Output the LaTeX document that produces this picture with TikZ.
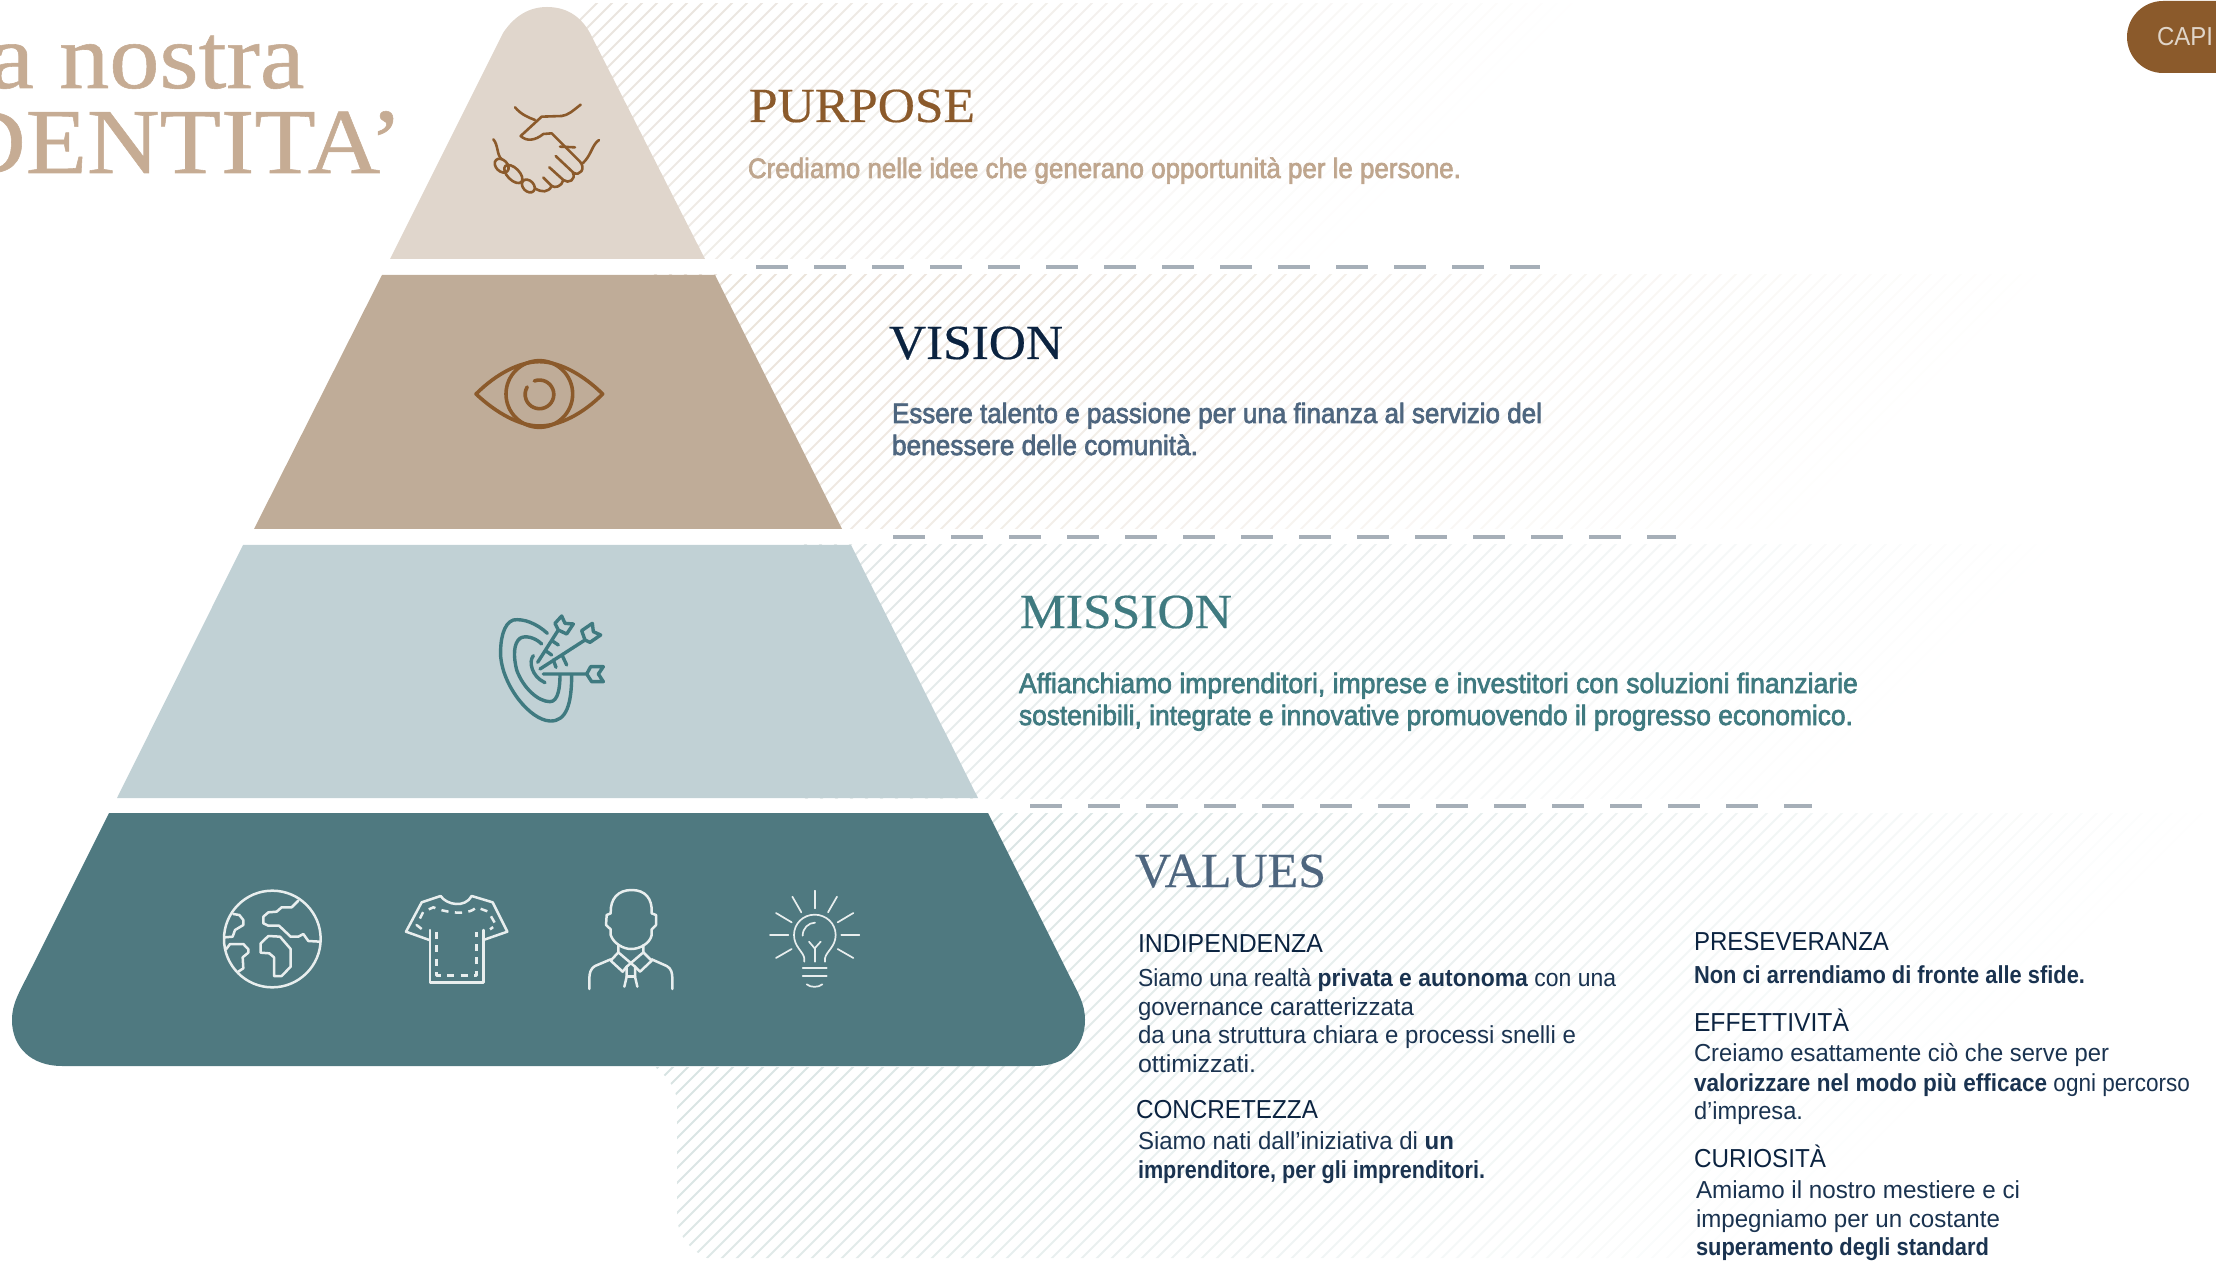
\documentclass[tikz,border=0pt]{standalone}
\usepackage{fontspec}
\usepackage{graphicx}
\setmainfont{Liberation Sans}
\newfontfamily\headf[FakeBold=0.4]{Liberation Serif}
\newfontfamily\bighead[FakeStretch=1.08,FakeBold=0.6]{Liberation Serif}
\newfontfamily\medf[FakeBold=2.5]{Liberation Sans}
\definecolor{cTa}{HTML}{E0D6CC}
\definecolor{cTb}{HTML}{BFAC98}
\definecolor{cTc}{HTML}{C1D1D5}
\definecolor{cTd}{HTML}{4F7980}
\definecolor{cBrown}{HTML}{8B5A2B}
\definecolor{cTeal}{HTML}{3F7A80}
\definecolor{cIce}{HTML}{E8EEEE}
\definecolor{cTitle}{HTML}{C6AC94}
\definecolor{cSand}{HTML}{BFA68E}
\definecolor{cSlate}{HTML}{4E667F}
\definecolor{cNavy}{HTML}{0B2340}
\definecolor{cBody}{HTML}{1A3350}
\definecolor{cDash}{HTML}{A6AFB8}
\definecolor{cBtnT}{HTML}{E0D5C9}
\definecolor{hA}{HTML}{EAE5DF}
\definecolor{hB}{HTML}{EAE2D9}
\definecolor{hC}{HTML}{E2E8E8}
\definecolor{hD}{HTML}{D6E2E1}
\newlength\fitw
\newcommand\fitline[2]{\fitw=#1pt \divide\fitw by 2 \resizebox{\fitw}{\height}{#2}}
\newcommand\hatchband[3]{%
  \foreach \s in {600,615,...,3300}{%
    \pgfmathtruncatemacro{\m}{max(0,min(100,100*((#2-\s)/(#2-#1))))}%
    \draw[line width=0.95pt,color=#3!\m!white] (\s,0) -- ({\s-1300},1300);
  }}
\tikzset{
  txt/.style={anchor=base west,inner sep=0pt,outer sep=0pt},
  bodyt/.style={txt,text=cBody,font=\fontsize{12.3}{14}\selectfont},
  headt/.style={txt,text=cNavy,font=\fontsize{13}{15}\selectfont},
  subt/.style={txt,font=\medf\fontsize{14}{16}\selectfont},
  titlet/.style={txt,font=\headf\fontsize{24.5}{28}\selectfont},
  dashl/.style={cDash,line width=2.2pt,dash pattern=on 16pt off 13pt},
  zoomed/.style={x=0.16667pt,y=-0.16667pt,line cap=round,line join=round},
}
\begin{document}
\begin{tikzpicture}[x=0.5pt,y=-0.5pt]
\useasboundingbox (0,0) rectangle (2216,1261);
\clip (0,0) rectangle (2216,1261);
% hatching
\begin{scope}\clip (500,4) rectangle (2216,259);\hatchband{700}{1600}{hA}\end{scope}
\begin{scope}\clip (650,275) rectangle (2216,529);\hatchband{1000}{2350}{hB}\end{scope}
\begin{scope}\clip (800,545) rectangle (2216,798);\hatchband{1500}{2620}{hC}\end{scope}
\begin{scope}
\clip (950,813) -- (2216,813) -- (2216,1258) -- (707,1258) .. controls (690,1250) and (677,1235) .. (677,1215) -- (677,1100) .. controls (675,1085) and (665,1075) .. (655,1067) -- (950,1067) -- cycle;
\hatchband{1700}{3050}{hD}
\end{scope}
% pyramid
\fill[cTa] (390,259) -- (503,33) .. controls (515,15) and (530,7) .. (547,7) .. controls (565,7) and (580,15) .. (590,33) -- (705,259) -- cycle;
\fill[cTb] (254,529) -- (382,275) -- (715,275) -- (842,529) -- cycle;
\fill[cTc] (117,798) -- (243,545) -- (851,545) -- (978,798) -- cycle;
\fill[cTd] (109,813) -- (988,813) -- (1065,967) .. controls (1078,993) and (1085,1003) .. (1085,1020) .. controls (1085,1048) and (1065,1066) .. (1035,1066) -- (62,1066) .. controls (32,1066) and (12,1048) .. (12,1020) .. controls (12,1003) and (19,993) .. (32,967) -- cycle;
% dashes
\coordinate (da) at (756,267); \coordinate (db) at (1540,267);
\coordinate (dc) at (893,537); \coordinate (dd) at (1676,537);
\coordinate (de) at (1030,806); \coordinate (df) at (1812,806);
\draw[dashl] (da) -- (db);
\draw[dashl] (dc) -- (dd);
\draw[dashl] (de) -- (df);
% title
\node[anchor=base east,inner sep=0pt,text=cTitle,font=\bighead\fontsize{46.5}{50}\selectfont] (t1) at (305,88) {a nostra};
\node[anchor=base east,inner sep=0pt,text=cTitle,font=\bighead\fontsize{46.5}{50}\selectfont] (t2) at (403,173) {DENTITA’};
% button
\fill[cBrown] (2216,1) -- (2163,1) arc[start angle=270,end angle=90,radius=36] -- (2216,73) -- cycle;
\node[txt,text=cBtnT,font=\fontsize{13}{15}\selectfont] (btn) at (2157,46) {\fitline{56}{CAPI}};
% purpose
\node[titlet,text=cBrown] (h1) at (749,122) {\fitline{226}{PURPOSE}};
\node[subt,text=cSand] (s1) at (748,178) {\fitline{713}{Crediamo nelle idee che generano opportunità per le persone.}};
% vision
\node[titlet,text=cNavy] (h2) at (889,359) {\fitline{174}{VISION}};
\node[subt,text=cSlate] (s2a) at (892,423) {\fitline{650}{Essere talento e passione per una finanza al servizio del}};
\node[subt,text=cSlate] (s2b) at (892,455) {\fitline{306}{benessere delle comunità.}};
% mission
\node[titlet,text=cTeal] (h3) at (1020,628) {\fitline{212}{MISSION}};
\node[subt,text=cTeal] (s3a) at (1019,693) {\fitline{839}{Affianchiamo imprenditori, imprese e investitori con soluzioni finanziarie}};
\node[subt,text=cTeal] (s3b) at (1019,725) {\fitline{834}{sostenibili, integrate e innovative promuovendo il progresso economico.}};
% values
\node[titlet,text=cSlate] (h4) at (1135,887) {\fitline{191}{VALUES}};
\node[headt] (v1) at (1138,952) {\fitline{185}{INDIPENDENZA}};
\node[bodyt] (v1a) at (1138,986) {\fitline{478}{Siamo una realtà \textbf{privata e autonoma} con una}};
\node[bodyt] (v1b) at (1138,1015) {\fitline{276}{governance caratterizzata}};
\node[bodyt] (v1c) at (1138,1043) {\fitline{438}{da una struttura chiara e processi snelli e}};
\node[bodyt] (v1d) at (1138,1072) {\fitline{118}{ottimizzati.}};
\node[headt] (v2) at (1136,1118) {\fitline{182}{CONCRETEZZA}};
\node[bodyt] (v2a) at (1138,1149) {\fitline{316}{Siamo nati dall’iniziativa di \textbf{un}}};
\node[bodyt,font=\fontsize{12.3}{14}\bfseries] (v2b) at (1138,1178) {\fitline{347}{imprenditore, per gli imprenditori.}};
\node[headt] (v3) at (1694,950) {\fitline{195}{PRESEVERANZA}};
\node[bodyt,font=\fontsize{12.3}{14}\bfseries] (v3a) at (1694,983) {\fitline{391}{Non ci arrendiamo di fronte alle sfide.}};
\node[headt] (v4) at (1694,1031) {\fitline{155}{EFFETTIVITÀ}};
\node[bodyt] (v4a) at (1694,1061) {\fitline{415}{Creiamo esattamente ciò che serve per}};
\node[bodyt] (v4b) at (1694,1091) {\fitline{496}{\textbf{valorizzare nel modo più efficace} ogni percorso}};
\node[bodyt] (v4c) at (1694,1119) {\fitline{109}{d’impresa.}};
\node[headt] (v5) at (1694,1167) {\fitline{132}{CURIOSITÀ}};
\node[bodyt] (v5a) at (1696,1198) {\fitline{324}{Amiamo il nostro mestiere e ci}};
\node[bodyt] (v5b) at (1696,1227) {\fitline{304}{impegniamo per un costante}};
\node[bodyt,font=\fontsize{12.3}{14}\bfseries] (v5c) at (1696,1255) {\fitline{293}{superamento degli standard}};
% handshake
\begin{scope}[shift={(380,0)},zoomed,cBrown,line width=1.3pt]
\draw (405,322) .. controls (425,345) and (445,352) .. (465,360);
\draw (602,314) .. controls (575,335) and (565,345) .. (545,348) -- (485,350) -- (422,408) .. controls (440,425) and (465,422) .. (490,402) -- (515,400) -- (600,485) .. controls (618,505) and (600,530) .. (580,518);
\draw (540,440) -- (585,442);
\draw (527,468) -- (578,516) .. controls (590,540) and (565,552) .. (550,540) -- (508,502);
\draw (550,540) .. controls (545,560) and (525,565) .. (515,558) -- (490,533);
\draw (515,558) .. controls (505,578) and (485,578) .. (465,565);
\draw (340,418) .. controls (355,435) and (350,465) .. (365,478);
\draw (657,420) .. controls (635,435) and (635,465) .. (608,490);
\draw[rotate around={-45:(365,497)}] (365,497) ellipse (24 and 17);
\draw[rotate around={-45:(400,522)}] (400,522) ellipse (34 and 18);
\draw[rotate around={-45:(445,558)}] (445,558) ellipse (22 and 16);
\end{scope}
% eye
\begin{scope}[shift={(440,320)},zoomed,cBrown,line width=1.8pt]
\draw (108,222) .. controls (170,160) and (240,125) .. (298,125) .. controls (360,125) and (430,165) .. (488,222) .. controls (430,280) and (360,318) .. (298,318) .. controls (240,318) and (170,280) .. (108,222) -- cycle;
\draw (298,222) circle[radius=100];
\draw (283,183) arc[start angle=249,end angle=571,radius=43];
\end{scope}
% target
\begin{scope}[shift={(470,590)},zoomed,cTeal,line width=1.7pt]
\draw (232,130) .. controls (200,100) and (160,85) .. (130,90) .. controls (100,100) and (90,150) .. (92,200) .. controls (100,290) and (180,390) .. (240,393) .. controls (290,395) and (305,340) .. (305,255);
\draw (215,162) .. controls (195,142) and (165,135) .. (150,145) .. controls (130,160) and (130,200) .. (140,240) .. controls (160,295) and (205,335) .. (240,335) .. controls (265,335) and (270,290) .. (270,255);
\draw (190,197) .. controls (175,215) and (185,260) .. (225,278);
\draw (203,217) -- (265,120) -- (255,100) -- (275,78) -- (285,100) -- (310,102) -- (290,132) -- (265,120);
\draw (247,153) -- (265,165); \draw (228,183) -- (245,195);
\draw (210,237) -- (345,150) -- (335,122) -- (367,100) -- (370,125) -- (392,135) -- (360,157) -- (345,150);
\draw (250,210) -- (258,232); \draw (277,197) -- (290,225);
\draw (220,252) -- (350,252) -- (362,230) -- (400,230) -- (385,252) -- (400,275) -- (365,275) -- (350,252);
\end{scope}
% globe, shirt, person
\begin{scope}[shift={(200,870)},zoomed,cIce,line width=1.25pt]
\draw (217,207) circle[radius=145];
\draw (295,92) -- (275,112) -- (245,112) -- (230,125) -- (205,127) -- (190,140) -- (190,160) -- (205,167) -- (237,167) -- (272,200) -- (295,200) -- (310,192) -- (325,213) -- (360,215);
\draw (100,132) -- (118,135) -- (130,150) -- (130,165) -- (105,180) -- (98,200) -- (75,202);
\draw (78,238) -- (90,222) -- (130,222) -- (145,238) -- (145,248) -- (128,262) -- (130,295) -- (115,305);
\draw (182,220) -- (205,198) -- (240,200) -- (272,237) -- (272,290) -- (245,318) -- (222,318) -- (222,262) -- (208,250) -- (182,248) -- cycle;
% shirt
\draw (722,78) .. controls (740,105) and (795,115) .. (815,78) -- (878,97) -- (922,185) -- (850,210);
\draw (722,78) -- (665,97) -- (618,185) -- (688,210);
\draw (850,180) -- (850,337) -- (690,337) -- (690,180);
\draw[dash pattern=on 3.6pt off 3.2pt,line cap=butt] (665,177) -- (650,165) -- (670,125) -- (700,112) .. controls (730,125) and (800,140) .. (830,112) -- (865,125) -- (888,165) -- (870,178);
\draw[dash pattern=on 3.6pt off 3.2pt,line cap=butt] (710,185) -- (710,317) -- (830,317) -- (830,185);
% person
\draw (1232,130) .. controls (1230,85) and (1255,60) .. (1295,60) .. controls (1335,60) and (1358,85) .. (1355,130) -- (1368,135) -- (1368,165) -- (1355,178) -- (1355,195) .. controls (1350,220) and (1320,237) .. (1293,237) .. controls (1270,237) and (1240,220) .. (1232,195) -- (1232,178) -- (1218,165) -- (1220,135) -- cycle;
\draw (1255,225) -- (1255,247) -- (1305,290);
\draw (1330,225) -- (1330,247) -- (1280,290);
\draw (1255,247) -- (1232,272) -- (1268,305) -- (1280,290);
\draw (1330,247) -- (1355,272) -- (1320,305) -- (1305,290);
\draw (1280,320) -- (1305,320);
\draw (1280,290) -- (1280,320) -- (1273,350);
\draw (1305,290) -- (1305,320) -- (1312,350);
\draw (1232,268) -- (1185,288) .. controls (1172,295) and (1168,310) .. (1168,325) -- (1168,357);
\draw (1355,268) -- (1400,288) .. controls (1414,295) and (1417,310) .. (1417,325) -- (1417,357);
\end{scope}
% bulb
\begin{scope}[shift={(740,880)},zoomed,cIce,line width=0.85pt]
\foreach \a/\b/\c/\d in {224/32/224/85,157/50/184/97,264/97/291/50,108/99/155/127,293/127/340/99,90/166/145/166,304/166/358/166,108/234/155/207,293/207/340/234,188/264/260/264,188/289/260/289,207/185/224/205,242/185/224/205,224/205/224/245}
  \draw (\a,\b) -- (\c,\d);
\draw (193,245) -- (193,235) .. controls (190,215) and (162,200) .. (162,165) .. controls (162,130) and (190,104) .. (224,104) .. controls (258,104) and (287,130) .. (287,165) .. controls (287,200) and (258,215) .. (255,235) -- (255,245);
\draw (188,167) .. controls (188,145) and (205,128) .. (225,128);
\draw (200,313) .. controls (212,323) and (235,323) .. (247,313);
\end{scope}
\end{tikzpicture}
\end{document}
